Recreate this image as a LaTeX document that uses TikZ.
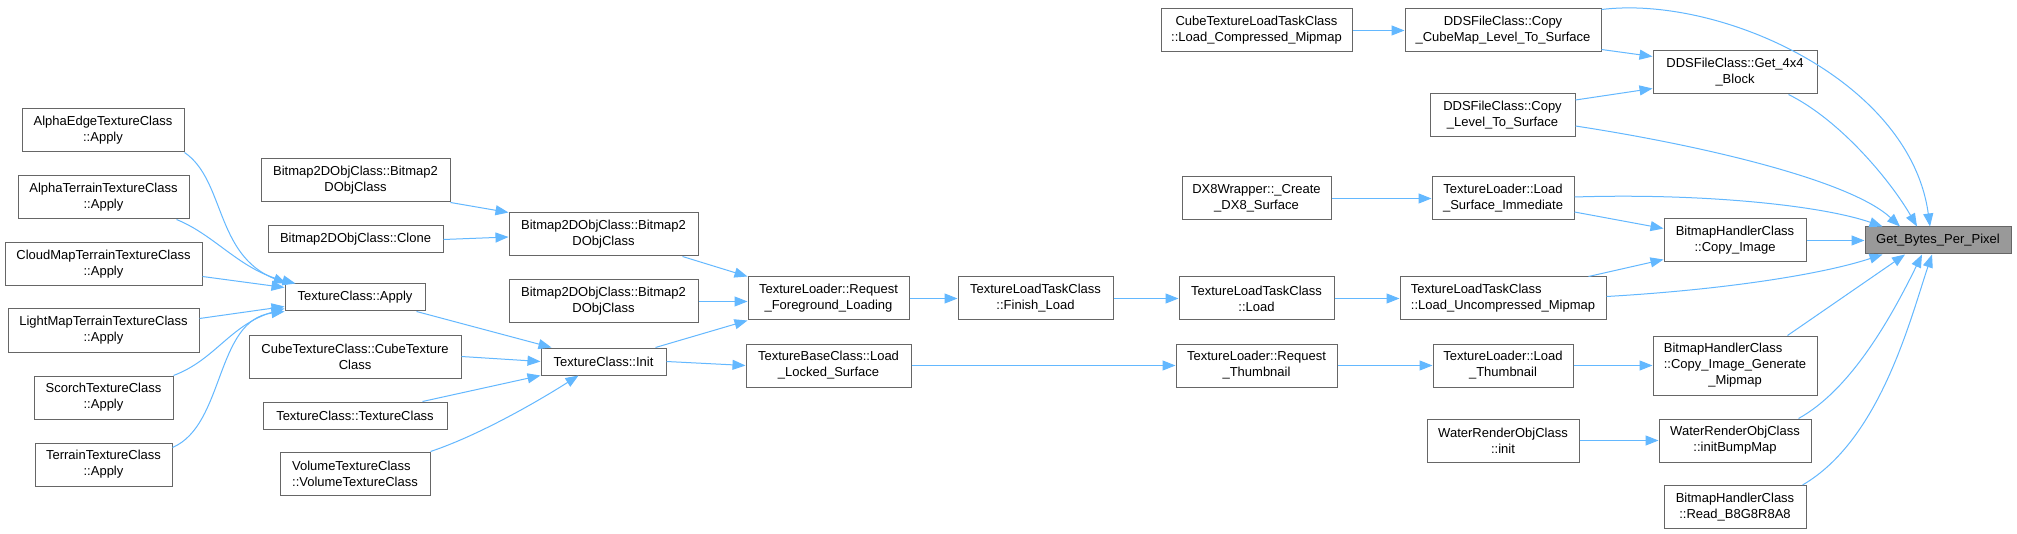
\documentclass[tikz,border=0pt]{standalone}
\usepackage{fontspec}
\setmainfont{Liberation Sans}
\usetikzlibrary{arrows.meta}
\definecolor{edgeblue}{RGB}{99,184,255}
\definecolor{boxgrey}{RGB}{102,102,102}
\definecolor{rootfill}{RGB}{153,153,153}

\begin{document}
\begin{tikzpicture}[x=1pt,y=-1pt,
  box/.style={draw=boxgrey,fill=white,line width=1pt,inner sep=0pt,align=center,
    minimum height=43pt,font=\fontsize{13}{16}\selectfont},
  oneline/.style={minimum height=27pt},
  arrow/.style={draw=edgeblue,line width=1pt,-{Triangle[length=13pt,width=10pt]}}
]
\path[fill=white,use as bounding box] (0,0) rectangle (2017,534);
\node[box,minimum width=162pt] (aedge) at (103,130.5) {AlphaEdgeTextureClass\\::Apply};
\node[box,minimum width=171pt] (aterr) at (103.5,197.5) {AlphaTerrainTextureClass\\::Apply};
\node[box,minimum width=197pt] (cloud) at (103.5,264.5) {CloudMapTerrainTextureClass\\::Apply};
\node[box,minimum width=191pt] (light) at (103.5,330.5) {LightMapTerrainTextureClass\\::Apply};
\node[box,minimum width=139pt] (scorch) at (103.5,397.5) {ScorchTextureClass\\::Apply};
\node[box,minimum width=137pt] (terrain) at (103.5,464.5) {TerrainTextureClass\\::Apply};
\node[box,minimum width=189pt] (bmpa) at (355.5,180.5) {Bitmap2DObjClass::Bitmap2\\DObjClass};
\node[box,oneline,minimum width=175pt] (clone) at (355.5,239.5) {Bitmap2DObjClass::Clone};
\node[box,oneline,minimum width=140pt] (tapply) at (355,297.5) {TextureClass::Apply};
\node[box,minimum width=212pt] (cubetex) at (355,356.5) {CubeTextureClass::CubeTexture\\Class};
\node[box,oneline,minimum width=184pt] (texctor) at (355,415.5) {TextureClass::TextureClass};
\node[box,align=left,minimum width=150pt] (voltex) at (355,473.5) {VolumeTextureClass\\::VolumeTextureClass};
\node[box,minimum width=189pt] (bmpb) at (603.5,234.5) {Bitmap2DObjClass::Bitmap2\\DObjClass};
\node[box,minimum width=189pt] (bmpc) at (603.5,301.5) {Bitmap2DObjClass::Bitmap2\\DObjClass};
\node[box,oneline,minimum width=125pt] (tinit) at (603.5,361.5) {TextureClass::Init};
\node[box,minimum width=161pt] (reqfg) at (828.5,298.5) {TextureLoader::Request\\\_Foreground\_Loading};
\node[box,minimum width=165pt] (locked) at (828.5,365.5) {TextureBaseClass::Load\\\_Locked\_Surface};
\node[box,minimum width=155pt] (finish) at (1035.5,298.5) {TextureLoadTaskClass\\::Finish\_Load};
\node[box,minimum width=191pt] (cubeload) at (1256.5,30.5) {CubeTextureLoadTaskClass\\::Load\_Compressed\_Mipmap};
\node[box,minimum width=149pt] (dxsurf) at (1256.5,198.5) {DX8Wrapper::\_Create\\\_DX8\_Surface};
\node[box,minimum width=155pt] (taskload) at (1256.5,298.5) {TextureLoadTaskClass\\::Load};
\node[box,minimum width=161pt] (reqthumb) at (1256.5,365.5) {TextureLoader::Request\\\_Thumbnail};
\node[box,minimum width=196pt] (cubemap) at (1503,30.5) {DDSFileClass::Copy\\\_CubeMap\_Level\_To\_Surface};
\node[box,minimum width=145pt] (copylvl) at (1502.5,115) {DDSFileClass::Copy\\\_Level\_To\_Surface};
\node[box,minimum width=142pt] (surfimm) at (1503,198.5) {TextureLoader::Load\\\_Surface\_Immediate};
\node[box,align=left,minimum width=206pt] (uncomp) at (1503,298.5) {TextureLoadTaskClass\\::Load\_Uncompressed\_Mipmap};
\node[box,minimum width=140pt] (loadthumb) at (1503,365.5) {TextureLoader::Load\\\_Thumbnail};
\node[box,minimum width=152pt] (waterinit) at (1503,440.5) {WaterRenderObjClass\\::init};
\node[box,minimum width=164pt] (block) at (1735,72.5) {DDSFileClass::Get\_4x4\\\_Block};
\node[box,minimum width=142pt] (copyimg) at (1735,240.5) {BitmapHandlerClass\\::Copy\_Image};
\node[box,minimum width=164pt,minimum height=59pt] (genmip) at (1735,365.5) {\begin{tabular}{@{}l@{}}BitmapHandlerClass\\::Copy\_Image\_Generate\\\multicolumn{1}{@{}c@{}}{\_Mipmap}\end{tabular}};
\node[box,minimum width=152pt] (bumpmap) at (1735,440.5) {WaterRenderObjClass\\::initBumpMap};
\node[box,minimum width=142pt] (readbgra) at (1735,507) {BitmapHandlerClass\\::Read\_B8G8R8A8};
\node[box,oneline,fill=rootfill,minimum width=146pt] (bpp) at (1938,240.5) {Get\_Bytes\_Per\_Pixel};
\draw[arrow] (aedge.south east) .. controls (225,180) and (215,255) .. ([xshift=2pt]tapply.north west);
\draw[arrow] ([xshift=-13pt]aterr.south east) .. controls (215,235) and (240,270) .. ([xshift=11pt]tapply.north west);
\draw[arrow] ([yshift=-12pt]cloud.east) -- ([yshift=10pt]tapply.west);
\draw[arrow] ([yshift=12pt]light.east) -- ([yshift=-9pt]tapply.west);
\draw[arrow] (scorch.north east) .. controls (215,360) and (230,325) .. ([yshift=-11pt]tapply.west);
\draw[arrow] ([yshift=-5pt]terrain.north east) .. controls (225,425) and (215,320) .. (tapply.south west);
\draw[arrow] (bmpa.south east) -- (bmpb.north west);
\draw[arrow] (clone.east) -- ([yshift=-2.5pt]bmpb.west);
\draw[arrow] ([xshift=-9pt]tapply.south east) -- ([xshift=11pt]tinit.north west);
\draw[arrow] (cubetex.east) -- (tinit.west);
\draw[arrow] ([xshift=-25pt]texctor.north east) -- (tinit.south west);
\draw[arrow] (voltex.north east) .. controls (480,435) and (540,400) .. ([xshift=-25pt]tinit.south);
\draw[arrow] ([xshift=-16pt]bmpb.south east) -- (reqfg.north west);
\draw[arrow] (bmpc.east) -- (bmpc.east -| reqfg.west);
\draw[arrow] ([xshift=-11pt]tinit.north east) -- (reqfg.south west);
\draw[arrow] (tinit.east) -- (locked.west);
\draw[arrow] (reqfg) -- (finish);
\draw[arrow] (finish) -- (taskload);
\draw[arrow] (taskload) -- (uncomp);
\draw[arrow] (locked) -- (reqthumb);
\draw[arrow] (reqthumb) -- (loadthumb);
\draw[arrow] (dxsurf) -- (surfimm);
\draw[arrow] (cubeload) -- (cubemap);
\draw[arrow] (loadthumb) -- (genmip);
\draw[arrow] (waterinit) -- (bumpmap);
\draw[arrow] (copyimg) -- (bpp);
\draw[arrow] ([yshift=3pt]cubemap.south east) -- ([yshift=-6pt]block.north west);
\draw[arrow] ([yshift=-7pt]copylvl.north east) -- ([yshift=6pt]block.south west);
\draw[arrow] ([yshift=-1pt]cubemap.north east) .. controls (1720,-5) and (1910,80) .. ([xshift=-8pt]bpp.north);
\draw[arrow] ([yshift=-11pt]copylvl.east) .. controls (1700,145) and (1850,180) .. ([xshift=-38pt]bpp.north);
\draw[arrow] ([xshift=-29pt]block.south east) .. controls (1840,120) and (1890,180) .. ([xshift=-21pt]bpp.north);
\draw[arrow] ([yshift=1.5pt]surfimm.east) .. controls (1700,193) and (1820,205) .. ([xshift=18pt]bpp.north west);
\draw[arrow] ([yshift=-13.5pt]surfimm.east) -- ([yshift=12pt]copyimg.west);
\draw[arrow] ([xshift=-18pt]uncomp.north east) -- ([yshift=-19pt]copyimg.west);
\draw[arrow] ([yshift=2pt]uncomp.east) .. controls (1720,290) and (1820,275) .. ([xshift=18pt]bpp.south west);
\draw[arrow] ([xshift=-30pt]genmip.north east) -- ([xshift=-33pt]bpp.south);
\draw[arrow] ([xshift=-13pt]bumpmap.north east) .. controls (1850,390) and (1890,320) .. ([xshift=-16pt]bpp.south);
\draw[arrow] ([xshift=-4pt]readbgra.north east) .. controls (1880,440) and (1910,320) .. ([xshift=-6pt]bpp.south);
\end{tikzpicture}
\end{document}
